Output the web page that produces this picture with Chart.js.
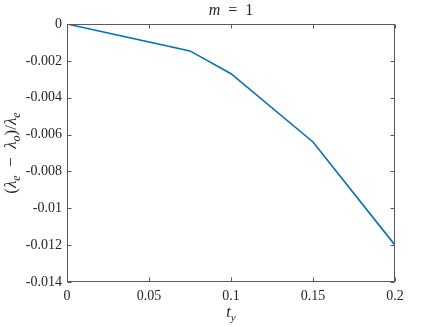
<!DOCTYPE html>
<html>
<head>
<meta charset="utf-8">
<script src="https://cdn.jsdelivr.net/npm/chart.js@4"></script>
<style>
  html, body { margin: 0; padding: 0; background: #fff; }
  #wrap { width: 436px; height: 327px; position: relative; }
</style>
</head>
<body>
<div id="wrap"><canvas id="chart"></canvas></div>
<script>
// data
const tyValues = [0, 0.075, 0.1, 0.15, 0.2];
const ratioValues = [0, -0.00146, -0.0027, -0.0064, -0.0120];
const xTicks = [0, 0.05, 0.1, 0.15, 0.2];
const yTicks = [0, -0.002, -0.004, -0.006, -0.008, -0.01, -0.012, -0.014];

const axisColor = '#5a5a5a';
const serif = '"Liberation Serif", "DejaVu Serif", serif';

const fmt = v => String(+v.toFixed(4));

// draws a row of text pieces, some italic, some subscript, centred on cx
function drawRuns(ctx, runs, cx, baseY, size) {
  const fontFor = r => `${r.italic ? 'italic ' : ''}${r.sub ? Math.round(size * 0.7) : size}px ${serif}`;
  let w = 0;
  runs.forEach(r => { ctx.font = fontFor(r); w += ctx.measureText(r.t).width; });
  let x = cx - w / 2;
  ctx.textAlign = 'left';
  ctx.textBaseline = 'alphabetic';
  runs.forEach(r => {
    ctx.font = fontFor(r);
    ctx.fillText(r.t, x, baseY + (r.sub ? size * 0.22 : 0));
    x += ctx.measureText(r.t).width;
  });
}

const matlabFrame = {
  id: 'matlabFrame',
  afterDraw(chart) {
    const { ctx, chartArea: a, scales: { x, y } } = chart;
    const L = Math.round(a.left) + 0.5, R = Math.round(a.right) - 0.5;
    const T = Math.round(a.top) + 0.5, B = Math.round(a.bottom) - 0.5;
    ctx.save();
    ctx.strokeStyle = axisColor;
    ctx.lineWidth = 1;
    ctx.strokeRect(L, T, R - L, B - T);
    ctx.beginPath();
    xTicks.forEach(v => {
      const px = Math.round(x.getPixelForValue(v)) + 0.5;
      ctx.moveTo(px, B); ctx.lineTo(px, B - 4);
      ctx.moveTo(px, T); ctx.lineTo(px, T + 4);
    });
    yTicks.forEach(v => {
      const py = Math.round(y.getPixelForValue(v)) + 0.5;
      ctx.moveTo(L, py); ctx.lineTo(L + 4, py);
      ctx.moveTo(R, py); ctx.lineTo(R - 4, py);
    });
    ctx.stroke();

    ctx.fillStyle = '#262626';
    const cx = (a.left + a.right) / 2;
    // title
    drawRuns(ctx, [{ t: 'm', italic: true }, { t: '\u2002=\u20021' }], cx, 15, 16);
    // x label
    drawRuns(ctx, [{ t: 't', italic: true }, { t: 'y', italic: true, sub: true }], cx, 317, 16);
    // y label
    ctx.translate(16, (a.top + a.bottom) / 2);
    ctx.rotate(-Math.PI / 2);
    drawRuns(ctx, [
      { t: '(' }, { t: 'λ', italic: true }, { t: 'e', italic: true, sub: true },
      { t: '\u2002−\u2002' }, { t: 'λ', italic: true }, { t: 'o', italic: true, sub: true },
      { t: ')/' }, { t: 'λ', italic: true }, { t: 'e', italic: true, sub: true }
    ], 0, 0, 17);
    ctx.restore();
  }
};

new Chart(document.getElementById('chart'), {
  type: 'line',
  data: {
    datasets: [{
      data: tyValues.map((t, i) => ({ x: t, y: ratioValues[i] })),
      borderColor: '#0072BD',
      borderWidth: 1.6,
      pointRadius: 0,
      tension: 0,
      fill: false
    }]
  },
  options: {
    responsive: true,
    maintainAspectRatio: false,
    animation: false,
    layout: { padding: { left: 0, top: 24, right: 41, bottom: 0 } },
    plugins: { legend: { display: false }, tooltip: { enabled: false } },
    scales: {
      x: {
        type: 'linear',
        min: 0, max: 0.2,
        afterBuildTicks: s => { s.ticks = xTicks.map(v => ({ value: v })); },
        afterFit: s => { s.height = 45; },
        grid: { display: false, tickLength: 0 },
        border: { display: false },
        ticks: { color: '#262626', padding: 6, maxRotation: 0, font: { family: serif, size: 14 }, callback: fmt }
      },
      y: {
        min: -0.014, max: 0,
        afterBuildTicks: s => { s.ticks = yTicks.map(v => ({ value: v })); },
        afterFit: s => { s.width = 67; },
        grid: { display: false, tickLength: 0 },
        border: { display: false },
        ticks: { color: '#262626', padding: 5, font: { family: serif, size: 14 }, callback: fmt }
      }
    }
  },
  plugins: [matlabFrame]
});
</script>
</body>
</html>
